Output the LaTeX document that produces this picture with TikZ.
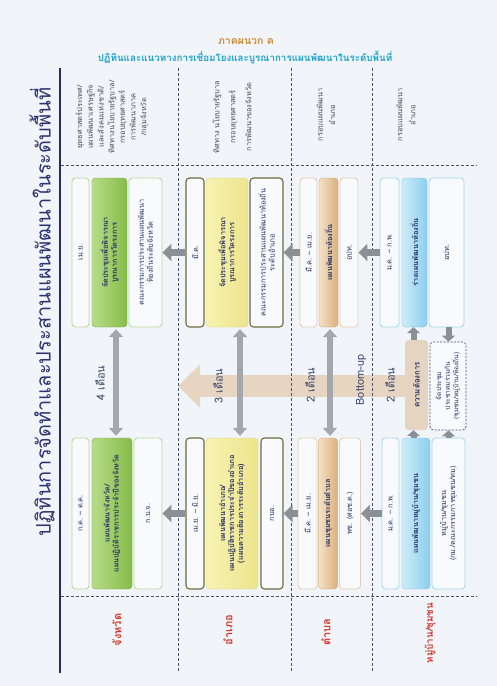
\documentclass[tikz,border=0pt]{standalone}
\usepackage{fontspec}
\setmainfont{Loma}[Script=Thai]
\usetikzlibrary{arrows.meta,calc}
\definecolor{bg}{HTML}{F1F5FA}
\definecolor{hdrorange}{HTML}{CF8A34}
\definecolor{hdrcyan}{HTML}{1AA3CF}
\definecolor{navy}{HTML}{2B3370}
\definecolor{navyline}{HTML}{262C5E}
\definecolor{dashcol}{HTML}{4A5070}
\definecolor{lvlred}{HTML}{D7362A}
\definecolor{hdtxt}{HTML}{4A4A58}
\definecolor{boxtxt}{HTML}{2A3466}
\definecolor{gborder}{HTML}{BCD99A}
\definecolor{gL}{HTML}{B8DC8A}
\definecolor{gD}{HTML}{86BC48}
\definecolor{yborder}{HTML}{6E6B3C}
\definecolor{yL}{HTML}{F7F3B2}
\definecolor{yD}{HTML}{EDE48C}
\definecolor{tborder}{HTML}{E5CFB0}
\definecolor{tL}{HTML}{F4E1C7}
\definecolor{tD}{HTML}{DBB07C}
\definecolor{bborder}{HTML}{A6D8F0}
\definecolor{bL}{HTML}{CDECF8}
\definecolor{bD}{HTML}{8CCFEE}
\definecolor{needfill}{HTML}{E6D4C2}
\definecolor{bandcol}{HTML}{E8D5C1}
\definecolor{arrgray}{HTML}{8B9097}
\definecolor{darrgray}{HTML}{A3A7AE}
\definecolor{lbltxt}{HTML}{3A4A6A}
\definecolor{wfill}{HTML}{F8FAFD}
\tikzset{
  bx/.style={rotate=90, rounded corners=3.5pt, inner sep=1pt, align=center,
    text=boxtxt, font=\fontsize{7.3}{9}\selectfont},
  bxb/.style={font=\bfseries\fontsize{7.3}{9}\selectfont},
  wG/.style={bx, draw=gborder, fill=wfill, line width=0.9pt},
  mG/.style={bx, bxb, left color=gL, right color=gD, draw=gD!90!black, line width=0.4pt},
  wY/.style={bx, draw=yborder, fill=wfill, line width=1.1pt},
  mY/.style={bx, bxb, left color=yL, right color=yD, draw=yD!90!black, line width=0.3pt},
  wT/.style={bx, draw=tborder, fill=wfill, line width=0.9pt},
  mT/.style={bx, bxb, left color=tL, right color=tD, draw=tD!90!black, line width=0.3pt},
  wB/.style={bx, draw=bborder, fill=wfill, line width=0.9pt},
  mB/.style={bx, bxb, left color=bL, right color=bD, draw=bD!90!black, line width=0.3pt},
  hd/.style={rotate=90, align=center, text=hdtxt, font=\fontsize{7.4}{10.7}\selectfont},
  lvl/.style={rotate=90, text=lvlred, font=\bfseries\fontsize{11}{13}\selectfont},
  dur/.style={rotate=90, text=lbltxt, font=\fontsize{11}{12}\selectfont},
  dashln/.style={draw=dashcol, line width=0.7pt, dash pattern=on 3pt off 2pt},
  harrow/.style={draw=arrgray, line width=7pt, -{Triangle[width=17pt,length=9pt]}},
  varrow/.style={draw=darrgray, line width=6pt, {Triangle[width=14pt,length=8pt]}-{Triangle[width=14pt,length=8pt]}},
  sarrow/.style={draw=arrgray, line width=6pt, -{Triangle[width=13pt,length=6pt]}},
}
\begin{document}
\begin{tikzpicture}[x=1pt,y=-1pt]
\useasboundingbox (0,0) rectangle (497,686);
\fill[bg] (0,0) rectangle (497,686);

% header
\node[font=\bfseries\fontsize{10.5}{12}\selectfont, text=hdrorange] (h1) at (246,42) {ภาคผนวก ค};
\node[font=\bfseries\fontsize{9.8}{11}\selectfont, text=hdrcyan] (h2) at (245,58) {ปฏิทินและแนวทางการเชื่อมโยงและบูรณาการแผนพัฒนาในระดับพื้นที่};

% main title
\node[rotate=90, font=\fontsize{20}{22}\selectfont, text=navy] (title) at (42,312) {ปฏิทินการจัดทำและประสานแผนพัฒนาในระดับพื้นที่};

% big bottom-up band
\coordinate (bandR) at (405,386);
\coordinate (bandL) at (178,386);
\draw[draw=bandcol, line width=22pt, -{Triangle[width=42pt,length=22pt]}] (bandR) -- (bandL);

% lines
\coordinate (nvT) at (60,68);
\coordinate (nvB) at (60,673);
\draw[navyline, line width=2.6pt] (nvT) -- (nvB);
\foreach \xx/\nm in {178/d1,291.5/d2,372.5/d3}{
  \coordinate (\nm T) at (\xx,68);
  \coordinate (\nm B) at (\xx,673);
  \draw[dashln] (\nm T) -- (\nm B);
}
\coordinate (hAL) at (61,165); \coordinate (hAR) at (477,165);
\coordinate (hBL) at (61,596); \coordinate (hBR) at (477,596);
\draw[dashln] (hAL) -- (hAR);
\draw[dashln] (hBL) -- (hBR);

% header texts of columns
\node[hd] (hd1) at (112,117) {ยุทธศาสตร์ประเทศ/\\แผนพัฒนาเศรษฐกิจ\\และสังคมแห่งชาติ/\\ทิศทางนโยบายรัฐบาล/\\กรอบยุทธศาสตร์\\การพัฒนาภาค\\/กลุ่มจังหวัด};
\node[hd, font=\fontsize{7.4}{16}\selectfont] (hd2) at (232,117) {ทิศทาง นโยบายรัฐบาล\\กรอบยุทธศาสตร์\\การพัฒนาของจังหวัด};
\node[hd, font=\fontsize{7.4}{12.5}\selectfont] (hd3) at (326,115) {กรอบแผนพัฒนา\\อำเภอ};
\node[hd, font=\fontsize{7.4}{13}\selectfont] (hd4) at (406,115) {กรอบแผนพัฒนา\\อำเภอ};

% level labels
\node[lvl] (l1) at (117,630) {จังหวัด};
\node[lvl] (l2) at (228,630) {อำเภอ};
\node[lvl] (l3) at (326,632) {ตำบล};
\node[lvl, font=\bfseries\fontsize{9.8}{12}\selectfont] (l4) at (430,633) {หมู่บ้าน/ชุมชน};

% column 1 (province)
\node[wG, minimum width=149pt, minimum height=17pt] (c1tA) at (80.5,252.5) {เม.ย.};
\node[mG, minimum width=149pt, minimum height=35pt] (c1tB) at (109.5,252.5) {จัดประชุมเพื่อพิจารณา\\บูรณาการโครงการ};
\node[wG, minimum width=149pt, minimum height=33pt] (c1tC) at (145.5,252.5) {คณะกรรมการประสานแผนพัฒนา\\ท้องถิ่นระดับจังหวัด};
\node[wG, minimum width=151pt, minimum height=17pt] (c1bA) at (80.5,513.5) {ก.ค. – ต.ค.};
\node[mG, minimum width=151pt, minimum height=40pt] (c1bB) at (112,513.5) {แผนพัฒนาจังหวัด/\\แผนปฏิบัติราชการประจำปีของจังหวัด};
\node[wG, minimum width=151pt, minimum height=28pt] (c1bC) at (148,513.5) {ก.บ.จ.};

% column 2 (district)
\node[wY, minimum width=149pt, minimum height=18pt] (c2tA) at (195,252.5) {มี.ค.};
\node[mY, minimum width=149pt, minimum height=42pt] (c2tB) at (227,252.5) {จัดประชุมเพื่อพิจารณา\\บูรณาการโครงการ};
\node[wY, minimum width=149pt, minimum height=33pt] (c2tC) at (266.5,252.5) {คณะกรรมการประสานแผนพัฒนาท้องถิ่น\\ระดับอำเภอ};
\node[wY, minimum width=151pt, minimum height=18pt] (c2bA) at (195,513.5) {เม.ย. – มิ.ย.};
\node[mY, minimum width=151pt, minimum height=52pt] (c2bB) at (232,513.5) {แผนพัฒนาอำเภอ/\\แผนปฏิบัติราชการประจำปีของอำเภอ\\(แผนความต้องการระดับอำเภอ)};
\node[wY, minimum width=151pt, minimum height=22pt] (c2bC) at (272,513.5) {กบอ.};

% column 3 (sub-district)
\node[wT, minimum width=149pt, minimum height=17pt] (c3tA) at (308.5,252.5) {มี.ค. – เม.ย.};
\node[mT, minimum width=149pt, minimum height=19pt] (c3tB) at (328.5,252.5) {แผนพัฒนาท้องถิ่น};
\node[wT, minimum width=149pt, minimum height=18pt] (c3tC) at (349,252.5) {อปท.};
\node[wT, minimum width=151pt, minimum height=19pt] (c3bA) at (307.5,513.5) {มี.ค. – เม.ย.};
\node[mT, minimum width=151pt, minimum height=19pt] (c3bB) at (328,513.5) {แผนชุมชนระดับตำบล};
\node[wT, minimum width=151pt, minimum height=21pt] (c3bC) at (350,513.5) {พช. (ศอช.ต.)};

% column 4 (village)
\node[wB, minimum width=149pt, minimum height=19pt] (c4tA) at (389.5,252.5) {ม.ค. – ก.พ.};
\node[mB, minimum width=149pt, minimum height=25pt] (c4tB) at (414.5,252.5) {ร่างแผนพัฒนาท้องถิ่น};
\node[wB, minimum width=149pt, minimum height=35pt] (c4tC) at (446.5,252.5) {อปท.};
\node[wB, minimum width=151pt, minimum height=17pt] (c4bA) at (390.5,513.5) {ม.ค. – ก.พ.};
\node[mB, minimum width=151pt, minimum height=28pt] (c4bB) at (416,513.5) {แผนพัฒนาหมู่บ้าน/ชุมชน};
\node[wB, minimum width=151pt, minimum height=33pt] (c4bC) at (448.5,513.5) {หมู่บ้าน/ชุมชน\\(กม./คณะกรรมการชุมชน/ทม)};

\node[bx, fill=needfill, minimum width=90pt, minimum height=23pt, font=\bfseries\fontsize{7.8}{9}\selectfont] (need) at (416.5,385) {ความต้องการ};
\node[bx, draw=dashcol, dash pattern=on 2pt off 1.5pt, line width=0.7pt, fill=wfill, minimum width=88pt, minimum height=36pt, font=\fontsize{6.6}{8.6}\selectfont] (meet) at (448,386) {จัดประชุม\\ประชาคมร่วมกัน\\(ชุมชน/หมู่บ้าน/ท้องถิ่น)};

% vertical double arrows
\draw[varrow] ($(c1tB.west)+(6.5,2)$) -- ($(c1bB.east)+(4,-2)$);
\draw[varrow] ($(c2tB.west)+(13,2)$) -- ($(c2bB.east)+(8,-2)$);
\draw[varrow] ($(c3tB.west)+(1.5,2)$) -- ($(c3bB.east)+(2,-2)$);

% horizontal arrows (to the left)
\draw[harrow] (c2tA.north) -- (c1tC.south);
\draw[harrow] (c3tA.north) -- (c2tC.south);
\draw[harrow] (c4tA.north) -- (c3tC.south);
\draw[harrow] (c2bA.north) -- (c1bC.south);
\draw[harrow] (c3bA.north) -- (c2bC.south);
\draw[harrow] (c4bA.north) -- (c3bC.south);

% small arrows in village column
\draw[sarrow] ($(need.east)+(-3,0)$) -- ($(c4tB.west)+(-1,0)$);
\draw[sarrow] ($(c4bB.east)+(-2.5,0)$) -- ($(need.west)+(-3,0)$);
\draw[sarrow] ($(c4tC.west)+(2,0)$) -- ($(meet.east)+(0.5,0)$);
\draw[sarrow] ($(c4bC.east)+(0,0)$) -- ($(meet.west)+(0.5,0)$);

% duration labels
\node[dur] (m1) at (100,383) {4 เดือน};
\node[dur] (m2) at (218,386) {3 เดือน};
\node[dur] (m3) at (310,385) {2 เดือน};
\node[dur] (bu) at (361,380) {Bottom-up};
\node[dur] (m4) at (390,385) {2 เดือน};
\end{tikzpicture}
\end{document}
